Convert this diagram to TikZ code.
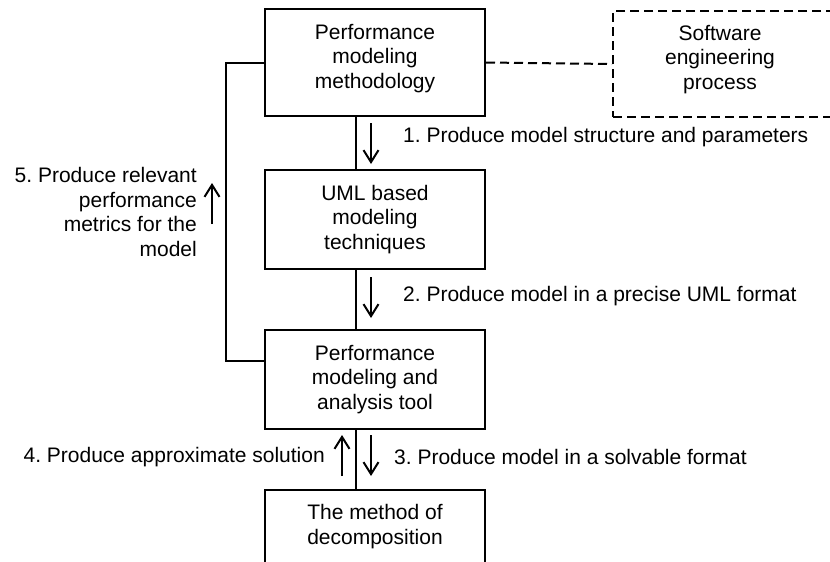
\documentclass[tikz,border=0pt]{standalone}
\usepackage{fontspec}
\setmainfont{Liberation Sans}
\usetikzlibrary{arrows.meta}
\frenchspacing
\begin{document}
\begin{tikzpicture}[x=1pt,y=-1pt,
  every node/.style={font=\fontsize{21}{24.5}\selectfont},
  stage/.style={draw, line width=2pt, minimum width=220pt, align=center, inner sep=0pt},
  outer/.style={draw, line width=2pt, dashed, dash pattern=on 9pt off 5pt, inner sep=0pt},
  link/.style={line width=2pt},
  flow/.style={line width=2pt, -{Straight Barb[length=12pt,width=15pt,line width=2pt]}},
  note/.style={inner sep=0pt, align=right}]
\clip (0,0) rectangle (830,562);

% process stages
\node[stage, minimum height=107pt, text depth=13pt] (meth) at (375,62.5)
  {Performance\\modeling\\methodology};
\node[stage, minimum height=99pt] (uml) at (375,219.5)
  {UML based\\modeling\\techniques};
\node[stage, minimum height=99pt] (tool) at (375,379.5)
  {Performance\\modeling and\\analysis tool};
\node[stage, minimum height=73pt] (dec) at (375,526.5)
  {The method of\\decomposition};

% surrounding process, running on past the right edge
\node[outer, minimum width=240pt, minimum height=106pt,
  label={[xshift=-13pt, yshift=4.5pt, align=center]center:Software\\engineering\\process}]
  (sep) at (733,64) {};

% links between stages
\draw[link] ([xshift=-19pt]meth.south) -- ([xshift=-19pt]uml.north);
\draw[link] ([xshift=-19pt]uml.south) -- ([xshift=-19pt]tool.north);
\draw[link] ([xshift=-19pt]tool.south) -- ([xshift=-19pt]dec.north);
\draw[link] ([yshift=18.5pt]tool.west) -- ++(-38,0) |- (meth.west);
\draw[link, dashed, dash pattern=on 9pt off 5pt] (meth.east) -- (sep.west);

% direction markers
\coordinate (a1s) at (371,123); \coordinate (a1e) at (371,164);
\coordinate (a2s) at (371,277); \coordinate (a2e) at (371,318);
\coordinate (a3s) at (371,435); \coordinate (a3e) at (371,476);
\coordinate (a4s) at (342,476); \coordinate (a4e) at (342,435);
\coordinate (a5s) at (212,224); \coordinate (a5e) at (212,183);
\draw[flow] (a1s) -- (a1e);
\draw[flow] (a2s) -- (a2e);
\draw[flow] (a3s) -- (a3e);
\draw[flow] (a4s) -- (a4e);
\draw[flow] (a5s) -- (a5e);

% step labels
\node[note, anchor=west] (l1) at (403,137) {1. Produce model structure and parameters};
\node[note, anchor=west] (l2) at (403,296) {2. Produce model in a precise UML format};
\node[note, anchor=west] (l3) at (394,457) {3. Produce model in a solvable format};
\node[note, anchor=east] (l4) at (325,457) {4. Produce approximate solution};
\node[note, anchor=east] (l5) at (197,212)
  {5. Produce relevant\\performance\\metrics for the\\model};
\end{tikzpicture}
\end{document}
